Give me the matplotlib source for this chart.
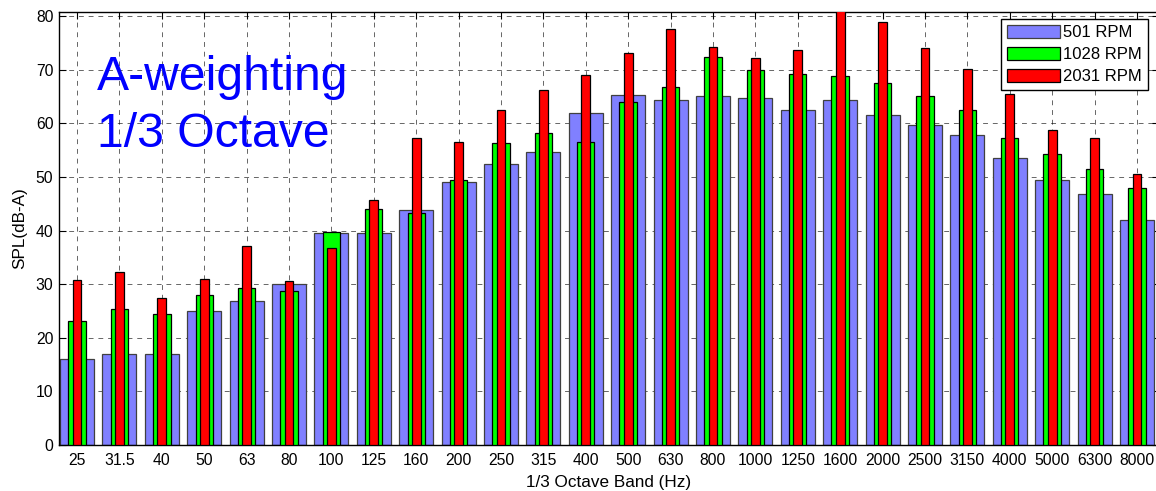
import matplotlib
matplotlib.use("Agg")
import matplotlib.pyplot as plt
import numpy as np

plt.rcParams['font.family'] = ['Liberation Sans', 'DejaVu Sans']

bands = ["25", "31.5", "40", "50", "63", "80", "100", "125", "160", "200", "250",
         "315", "400", "500", "630", "800", "1000", "1250", "1600", "2000", "2500",
         "3150", "4000", "5000", "6300", "8000"]
rpm501 = [16.0, 17.0, 17.0, 24.9, 26.8, 30.1, 39.5, 39.5, 43.8, 49.1, 52.4,
          54.6, 62.0, 65.2, 64.3, 65.0, 64.7, 62.4, 64.3, 61.6, 59.7,
          57.8, 53.6, 49.5, 46.9, 41.9]
rpm1028 = [23.2, 25.3, 24.4, 28.0, 29.3, 28.7, 39.7, 44.0, 43.2, 49.4, 56.4,
           58.1, 56.6, 63.9, 66.7, 72.3, 69.9, 69.2, 68.8, 67.5, 65.0,
           62.4, 57.2, 54.2, 51.5, 47.9]
rpm2031 = [30.8, 32.2, 27.5, 31.0, 37.1, 30.5, 36.7, 45.7, 57.2, 56.6, 62.4,
           66.2, 69.0, 73.2, 77.5, 74.3, 72.1, 73.6, 82.0, 78.8, 74.0,
           70.2, 65.4, 58.7, 57.2, 50.5]
series_labels = ["501 RPM", "1028 RPM", "2031 RPM"]

W, H = 1156, 491
fig = plt.figure(figsize=(W / 100, H / 100), dpi=100)
ax = fig.add_axes([59 / W, 46 / H, 1100 / W, 433.5 / H])

x = np.arange(len(bands))
ax.bar(x, rpm501, width=0.8, color="#8080FF", edgecolor="#404040", linewidth=0.9,
       label=series_labels[0], zorder=2)
ax.bar(x, rpm1028, width=0.41, color="#00FF00", edgecolor="black", linewidth=0.9,
       label=series_labels[1], zorder=3)
ax.bar(x, rpm2031, width=0.21, color="#FF0000", edgecolor="black", linewidth=0.9,
       label=series_labels[2], zorder=4)

ax.set_xlim(-0.425, 25.52)
ax.set_ylim(0, 80.85)
ax.set_xticks(x)
ax.set_xticklabels(bands)
ax.set_yticks(np.arange(0, 81, 10))
ax.tick_params(direction="in", length=5, labelsize=11.3, top=True, right=True,
               width=0.8)
ax.tick_params(axis="x", pad=6)
ax.tick_params(axis="y", pad=4)
ax.grid(True, color="black", linestyle=(0, (5, 5)), linewidth=0.7, alpha=0.6, zorder=0)
ax.set_axisbelow(True)
for s in ax.spines.values():
    s.set_linewidth(1.0)

ax.set_xlabel("1/3 Octave Band (Hz)", fontsize=12.3, labelpad=5)
ax.set_ylabel("SPL(dB-A)", fontsize=12.3, labelpad=6)

ax.text(0.47, 66.2, "A-weighting", color="#0000FF", fontsize=34.7, ha="left",
        va="baseline")
ax.text(0.47, 55.6, "1/3 Octave", color="#0000FF", fontsize=34.7, ha="left",
        va="baseline")

leg = ax.legend(loc="upper right", bbox_to_anchor=(1148 / W, 1 - 19 / H),
                bbox_transform=fig.transFigure, fancybox=False, framealpha=1,
                edgecolor="black", fontsize=12, handlelength=3.2,
                handleheight=0.85, labelspacing=0.4, borderpad=0.35,
                handletextpad=0.2, borderaxespad=0)
leg.get_frame().set_linewidth(1.0)
leg.set_zorder(10)

fig.savefig("out.png", dpi=100)
